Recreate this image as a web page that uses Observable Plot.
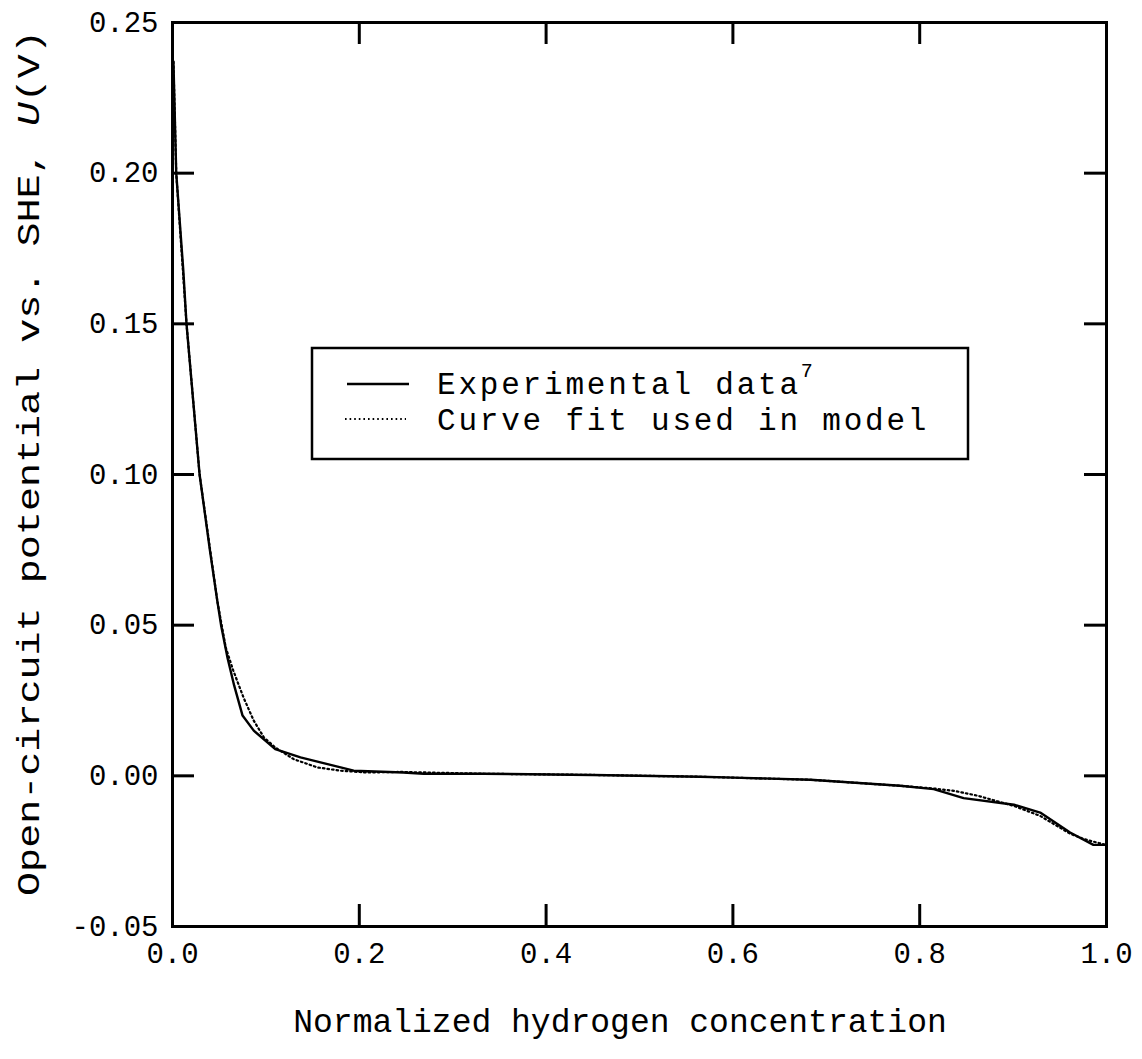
<!DOCTYPE html>
<html>
<head>
<meta charset="utf-8">
<script src="https://cdn.jsdelivr.net/npm/d3@7"></script>
<script src="https://cdn.jsdelivr.net/npm/@observablehq/plot@0.6"></script>
<style>
  body { margin: 0; background: #fff; }
  #chart svg { display: block; }
</style>
</head>
<body>
<div id="chart"></div>
<script>
// Experimental open-circuit potential (solid line)
const expX = [0.001, 0.004, 0.0115, 0.015, 0.029, 0.040, 0.048, 0.052, 0.059, 0.066, 0.075, 0.087, 0.110, 0.137, 0.166, 0.194, 0.247, 0.269, 0.333, 0.450, 0.565, 0.601, 0.683, 0.779, 0.815, 0.847, 0.901, 0.929, 0.961, 0.986, 0.999];
const expU = [0.237, 0.200, 0.168, 0.150, 0.100, 0.075, 0.058, 0.050, 0.039, 0.030, 0.020, 0.015, 0.0089, 0.0061, 0.0039, 0.0017, 0.0011, 0.0007, 0.0007, 0.0003, -0.0003, -0.0006, -0.0013, -0.0033, -0.0044, -0.0074, -0.0096, -0.0122, -0.0188, -0.0229, -0.0229];

// Curve fit used in the model (dotted line)
const fitX = [0.001, 0.004, 0.015, 0.029, 0.048, 0.057, 0.065, 0.076, 0.087, 0.098, 0.110, 0.130, 0.155, 0.180, 0.208, 0.244, 0.333, 0.450, 0.565, 0.683, 0.779, 0.815, 0.837, 0.862, 0.901, 0.929, 0.961, 0.976, 0.999];
const fitU = [0.237, 0.200, 0.150, 0.100, 0.058, 0.0426, 0.035, 0.026, 0.0183, 0.0127, 0.0094, 0.0055, 0.0028, 0.0017, 0.0011, 0.0013, 0.0007, 0.0003, -0.0003, -0.0013, -0.0033, -0.0042, -0.0050, -0.0066, -0.0100, -0.0133, -0.0192, -0.0210, -0.0229];

// Axis ticks
const xTicks = [0.0, 0.2, 0.4, 0.6, 0.8, 1.0];
const yTicks = [-0.05, 0.00, 0.05, 0.10, 0.15, 0.20, 0.25];

// Texts
const xTitle = "Normalized hydrogen concentration";
const yTitleParts = ["Open-circuit potential vs. SHE, ", "U", "(V)"];
const seriesNames = ["Experimental data", "Curve fit used in model"];
const expRef = "7";

const W = 1142, H = 1059;
const mL = 172, mR = 36, mT = 22, mB = 133;
const innerW = W - mL - mR, innerH = H - mT - mB;
const tickLen = 22;
const mono = "'Liberation Mono', 'Courier New', Courier, monospace";

const exp = expX.map((x, i) => ({x, u: expU[i]}));
const fit = fitX.map((x, i) => ({x, u: fitU[i]}));
const xInner = xTicks.slice(1, -1);
const yInner = yTicks.slice(1, -1);

const chart = Plot.plot({
  width: W,
  height: H,
  marginLeft: mL,
  marginRight: mR,
  marginTop: mT,
  marginBottom: mB,
  x: {domain: [0, 1]},
  y: {domain: [-0.05, 0.25]},
  style: {fontFamily: mono, fontSize: "29px", color: "#000", background: "#fff", overflow: "visible"},
  marks: [
    Plot.axisX(xTicks, {tickSize: 0, tickPadding: 16, tickFormat: d => d.toFixed(1), label: null, fontSize: 29}),
    Plot.axisY(yTicks, {tickSize: 0, tickPadding: 14, tickFormat: d => d.toFixed(2), label: null, fontSize: 29}),
    // inward ticks on all four sides
    Plot.ruleX(xInner, {x: d => d, insetTop: innerH - tickLen, strokeWidth: 3, stroke: "#000"}),
    Plot.ruleX(xInner, {x: d => d, insetBottom: innerH - tickLen, strokeWidth: 3, stroke: "#000"}),
    Plot.ruleY(yInner, {y: d => d, insetRight: innerW - tickLen, strokeWidth: 3, stroke: "#000"}),
    Plot.ruleY(yInner, {y: d => d, insetLeft: innerW - tickLen, strokeWidth: 3, stroke: "#000"}),
    Plot.line(fit, {x: "x", y: "u", stroke: "#000", strokeWidth: 2.2, strokeDasharray: "1.6,3"}),
    Plot.line(exp, {x: "x", y: "u", stroke: "#000", strokeWidth: 2.4}),
    Plot.frame({stroke: "#000", strokeWidth: 3})
  ]
});

document.getElementById("chart").appendChild(chart);
const svg = d3.select(chart);

// x-axis title
svg.append("text")
  .attr("x", 620).attr("y", 1032)
  .attr("text-anchor", "middle")
  .attr("font-family", mono).attr("font-size", 33).attr("fill", "#000")
  .text(xTitle);

// y-axis title, stretched along its reading direction
const yT = svg.append("g");
const yText = yT.append("text")
  .attr("text-anchor", "middle")
  .attr("font-family", mono).attr("font-size", 31).attr("fill", "#000");
yText.append("tspan").text(yTitleParts[0]);
yText.append("tspan").attr("font-style", "italic").text(yTitleParts[1]);
yText.append("tspan").text(yTitleParts[2]);
const natural = yText.node().getComputedTextLength();
const sx = 866 / natural;
yT.attr("transform", `translate(39,463) rotate(-90) scale(${sx},1)`);

// legend
const lg = svg.append("g").attr("text-anchor", "start");
lg.append("rect")
  .attr("x", 312).attr("y", 348).attr("width", 656).attr("height", 111)
  .attr("fill", "#fff").attr("stroke", "#000").attr("stroke-width", 2.5);
lg.append("line").attr("x1", 347).attr("x2", 409).attr("y1", 384).attr("y2", 384)
  .attr("stroke", "#000").attr("stroke-width", 2.4);
lg.append("line").attr("x1", 345).attr("x2", 406).attr("y1", 419).attr("y2", 419)
  .attr("stroke", "#000").attr("stroke-width", 2.2).attr("stroke-dasharray", "1.6,3");
const t1 = lg.append("text").attr("x", 437).attr("y", 394).attr("text-anchor", "start")
  .attr("font-family", mono).attr("font-size", 31).attr("letter-spacing", 2.8).attr("fill", "#000");
t1.append("tspan").text(seriesNames[0]);
t1.append("tspan").attr("font-size", 20).attr("dy", -17).attr("letter-spacing", 0).text(expRef);
lg.append("text").attr("x", 437).attr("y", 430).attr("text-anchor", "start")
  .attr("font-family", mono).attr("font-size", 31).attr("letter-spacing", 2.8).attr("fill", "#000")
  .text(seriesNames[1]);
</script>
</body>
</html>
